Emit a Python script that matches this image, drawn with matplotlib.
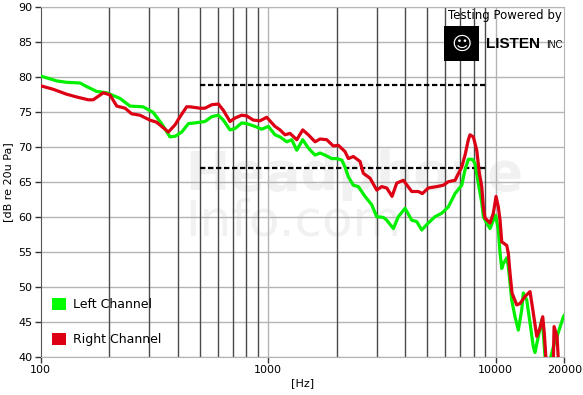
import numpy as np
import matplotlib
matplotlib.use("Agg")
import matplotlib.pyplot as plt
from matplotlib.patches import Patch, Rectangle

# Frequency response (Hz, dB re 20uPa)
left_freq = [100, 117.6, 130, 149, 159, 176, 195, 223, 247, 282, 312, 340, 370, 390,
             417, 446, 477, 527, 565, 604, 635, 679, 715, 765, 804, 875, 936, 1001,
             1071, 1127, 1206, 1269, 1335, 1418, 1501, 1606, 1690, 1777, 1902, 2000,
             2104, 2176, 2250, 2366, 2489, 2664, 2851, 2999, 3206, 3319, 3548, 3732,
             3994, 4273, 4495, 4728, 5054, 5411, 5791, 6188, 6624, 7088, 7330, 7579,
             7890, 8110, 8385, 8680, 8821, 9129, 9441, 9761, 10000, 10266, 10445,
             10627, 10800, 11176, 11358, 11756, 12154, 12567, 13009, 13221, 13686,
             14150, 14631, 14883, 15392, 15929, 16188, 16470, 17000, 17917, 18600,
             19827, 20000]
left_db = [80.1, 79.4, 79.2, 79.1, 78.6, 77.9, 77.7, 76.9, 75.8, 75.7, 74.9, 73.3, 71.4, 71.5,
           72.1, 73.3, 73.4, 73.6, 74.3, 74.5, 73.8, 72.4, 72.6, 73.4, 73.3, 72.9, 72.5, 72.9,
           71.7, 71.4, 70.7, 71.0, 69.5, 71.0, 69.8, 68.8, 69.1, 68.8, 68.3, 68.3,
           68.1, 67.1, 65.7, 64.5, 64.3, 62.9, 61.7, 60.0, 59.9, 59.5, 58.3, 60.0,
           61.2, 59.5, 59.3, 58.1, 59.1, 60.0, 60.5, 61.4, 63.3, 64.5, 66.7, 68.2,
           68.2, 67.6, 64.8, 62.0, 60.0, 59.1, 58.3, 59.5, 60.2, 58.1, 54.8,
           52.6, 53.3, 54.1, 52.9, 48.1, 45.7, 43.8, 46.7, 49.1, 48.1,
           44.8, 41.4, 40.6, 42.9, 45.3, 43.3, 40.0, 38.5, 41.4, 42.9,
           45.7, 45.9]

right_freq = [100, 113.6, 130, 144, 162, 170, 188.5, 201.6, 216, 235, 251, 273, 302, 323,
              352, 364, 389, 410, 438, 453, 501, 527, 565, 604, 635, 679, 715, 765, 804,
              860, 920, 985, 1071, 1127, 1185, 1247, 1335, 1418, 1501, 1606, 1690, 1808,
              1933, 2033, 2176, 2250, 2366, 2532, 2618, 2803, 2999, 3154, 3319, 3502,
              3672, 3926, 4273, 4569, 4757, 5054, 5505, 5886, 6188, 6624, 7088, 7330,
              7579, 7709, 7971, 8251, 8471, 8680, 8821, 8974, 9441, 9761, 10030, 10266,
              10445, 10627, 11176, 11358, 11557, 11791, 12366, 12786, 13451, 14150,
              14631, 15142, 15657, 16091, 16353, 16637, 17500, 17917, 18045, 18600,
              18846, 19200]
right_db = [78.7, 78.2, 77.5, 77.1, 76.7, 76.7, 77.7, 77.4, 75.8, 75.5, 74.7, 74.5, 73.8, 73.5,
            72.5, 72.1, 73.1, 74.3, 75.7, 75.7, 75.5, 75.5, 76.0, 76.1, 75.2, 73.6, 74.1, 74.5, 74.4,
            73.8, 73.7, 74.2, 72.9, 72.4, 71.7, 71.9, 71.0, 72.4, 71.7, 70.7, 71.1, 71.0,
            70.1, 70.2, 69.3, 68.3, 68.6, 67.9, 66.2, 65.5, 63.8, 64.3, 64.1, 62.9,
            64.8, 65.2, 63.6, 63.6, 63.3, 64.1, 64.3, 64.5, 65.0, 65.2, 67.1, 68.8,
            71.0, 71.7, 71.4, 69.5, 66.2, 64.3, 61.4, 59.8, 59.1, 60.5, 62.9, 61.4,
            59.5, 56.4, 55.9, 54.8, 51.9, 49.1, 47.4, 47.6, 48.6, 49.3,
            46.2, 42.9, 44.1, 45.7, 43.3, 39.5, 38.5, 39.5, 44.3, 42.9,
            39.5, 38.5]

# dashed reference band
band_freq = [500, 9000]
band_levels = [78.8, 66.9]

y_ticks = [40, 45, 50, 55, 60, 65, 70, 75, 80, 85, 90]
x_ticks = [100, 1000, 10000, 20000]
minor_lines = [200, 300, 400, 500, 600, 700, 800, 900,
               2000, 3000, 4000, 5000, 6000, 7000, 8000, 9000]

GREEN = '#00f000'
RED = '#dd0014'

fig = plt.figure(figsize=(5.83, 3.95), dpi=100)
ax = fig.add_axes([0.0698, 0.097, 0.898, 0.886])

ax.set_xscale('log')
ax.set_xlim(100, 20000)
ax.set_ylim(40, 90)

# faint watermark
ax.text(0.275, 0.52, "Headphone", transform=ax.transAxes, fontsize=38, fontweight='bold',
        color='#f1f1f1', ha='left', va='center', zorder=0)
ax.text(0.275, 0.385, "Info.com", transform=ax.transAxes, fontsize=36,
        color='#f1f1f1', ha='left', va='center', zorder=0)

# grid
for yv in y_ticks:
    ax.axhline(yv, color='#b4b4b4', lw=1.0, zorder=1)
for xv in [1000, 10000]:
    ax.axvline(xv, color='#b4b4b4', lw=1.0, zorder=1)
for xv in minor_lines:
    ax.axvline(xv, color='#4a4a4a', lw=1.0, zorder=1)

for lvl in band_levels:
    ax.plot(band_freq, [lvl, lvl], color='black', lw=1.6, dashes=(2.4, 1.2), zorder=2)

ax.plot(left_freq, left_db, color=GREEN, lw=2.3, zorder=3)
ax.plot(right_freq, right_db, color=RED, lw=2.3, zorder=4)

ax.set_yticks(y_ticks)
ax.set_xticks(x_ticks)
ax.set_xticklabels([str(v) for v in x_ticks])
ax.xaxis.set_minor_locator(matplotlib.ticker.NullLocator())
ax.tick_params(axis='both', labelsize=8, length=4, width=1, color='#333333', pad=2)

for side in ['top', 'right', 'bottom']:
    ax.spines[side].set_color('#b4b4b4')
ax.spines['left'].set_color('#555555')

ax.set_xlabel('[Hz]', fontsize=8, labelpad=2)
ax.set_ylabel('[dB re 20u Pa]', fontsize=8, labelpad=4)

handles = [Patch(facecolor='#00ff00', edgecolor='none', label='Left Channel'),
           Patch(facecolor=RED, edgecolor='none', label='Right Channel')]
ax.legend(handles=handles, loc='lower left', bbox_to_anchor=(0.005, 0.005), frameon=False,
          fontsize=9, handlelength=1.1, handleheight=1.1, handletextpad=0.6,
          labelspacing=1.75, borderaxespad=0.3)

# "Testing Powered by" logo block
fig.text(0.963, 0.944, "Testing Powered by", fontsize=8.5, ha='right', va='bottom')
fig.patches.append(Rectangle((0.762, 0.846), 0.060, 0.089, transform=fig.transFigure,
                             facecolor='black', edgecolor='none', zorder=5))
fig.text(0.792, 0.889, "\u263a", fontsize=14, color='white', ha='center', va='center', zorder=6)
fig.text(0.834, 0.879, "LISTEN", fontsize=11, fontweight='bold', family='Liberation Sans',
         ha='left', va='baseline', zorder=6)
fig.text(0.936, 0.879, "INC", fontsize=7, family='Liberation Sans', ha='left', va='baseline',
         zorder=6)

fig.savefig('out.png', dpi=100)
